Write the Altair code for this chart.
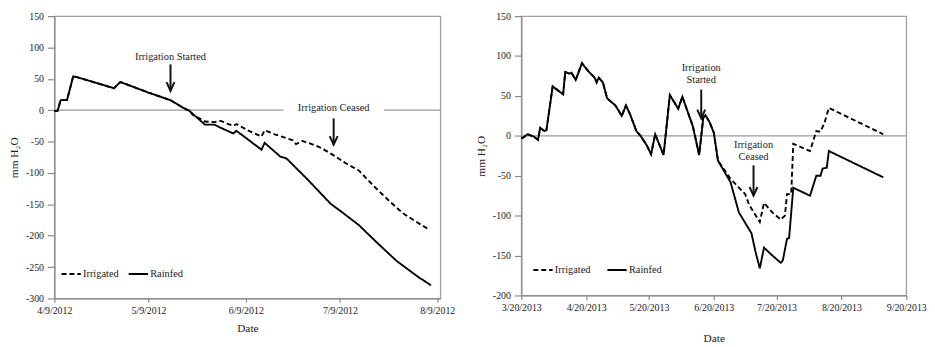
import altair as alt
import pandas as pd

# ---------------- Panel A (2012) ----------------
a_rain_dates = ["2012-04-09", "2012-04-10", "2012-04-11", "2012-04-13", "2012-04-15", "2012-04-16",
                "2012-04-28", "2012-04-30", "2012-05-09", "2012-05-16", "2012-05-20", "2012-05-22",
                "2012-05-27", "2012-05-30", "2012-06-01", "2012-06-05", "2012-06-06", "2012-06-09",
                "2012-06-14", "2012-06-15", "2012-06-20", "2012-06-22", "2012-06-29", "2012-07-06",
                "2012-07-09", "2012-07-15", "2012-07-21", "2012-07-27", "2012-08-03", "2012-08-07"]
a_rain_vals = [-1, -1, 16, 16, 54, 53,
               35, 45, 28, 16, 4, -1,
               -23, -23, -28, -37, -33, -44,
               -63, -52, -74, -77, -112, -149,
               -160, -183, -212, -240, -266, -279]

a_irr_dates = ["2012-04-09", "2012-04-10", "2012-04-11", "2012-04-13", "2012-04-15", "2012-04-16",
               "2012-04-28", "2012-04-30", "2012-05-09", "2012-05-16", "2012-05-20", "2012-05-22",
               "2012-05-23", "2012-05-27", "2012-05-30", "2012-06-01", "2012-06-05", "2012-06-06",
               "2012-06-10", "2012-06-14", "2012-06-15", "2012-06-18", "2012-06-24", "2012-06-25",
               "2012-06-27", "2012-06-30", "2012-07-03", "2012-07-07", "2012-07-11", "2012-07-15",
               "2012-07-20", "2012-07-25", "2012-07-29", "2012-08-03", "2012-08-06"]
a_irr_vals = [-1, -1, 16, 16, 54, 53,
              35, 45, 28, 16, 4, -1,
              -7, -18, -19, -17, -25, -22,
              -33, -42, -32, -38, -48, -54,
              -49, -54, -60, -72, -85, -96,
              -122, -146, -164, -180, -189]

a_ticks = ["2012-04-09", "2012-05-09", "2012-06-09", "2012-07-09", "2012-08-09"]
a_xdomain = ["2012-04-09", "2012-08-10"]
a_ydomain = [-300, 150]

# annotations panel A
a_text_labels = ["Irrigation Started", "Irrigation Ceased"]
a_text_dates = ["2012-05-16", "2012-07-07"]
a_text_vals = [84, 3]
a_arrow_dates = ["2012-05-16", "2012-07-07"]
a_arrow_from = [73, -13]
a_arrow_to = [31, -55]
a_gap_dates = ["2012-06-21", "2012-07-23"]
a_gap_vals = [-8, 14]

# ---------------- Panel B (2013) ----------------
b_rain_dates = ["2013-03-20", "2013-03-21", "2013-03-23", "2013-03-26", "2013-03-28", "2013-03-29",
                "2013-03-31", "2013-04-01", "2013-04-04", "2013-04-06", "2013-04-09", "2013-04-10",
                "2013-04-12", "2013-04-13", "2013-04-15", "2013-04-18", "2013-04-21", "2013-04-24",
                "2013-04-25", "2013-04-26", "2013-04-28", "2013-04-30", "2013-05-04", "2013-05-07",
                "2013-05-09", "2013-05-11", "2013-05-14", "2013-05-16", "2013-05-19", "2013-05-21",
                "2013-05-23", "2013-05-27", "2013-05-30", "2013-06-03", "2013-06-05", "2013-06-07",
                "2013-06-10", "2013-06-13", "2013-06-15", "2013-06-16", "2013-06-18", "2013-06-20",
                "2013-06-22", "2013-06-28", "2013-07-02", "2013-07-08", "2013-07-10", "2013-07-12",
                "2013-07-14", "2013-07-18", "2013-07-22", "2013-07-23", "2013-07-25", "2013-07-26",
                "2013-07-28", "2013-08-05", "2013-08-08", "2013-08-10", "2013-08-11", "2013-08-13",
                "2013-08-14", "2013-09-09"]
b_rain_vals = [-3, -2, 2, -1, -5, 10,
               6, 7, 62, 58, 52, 80,
               78, 79, 70, 91, 81, 73,
               67, 73, 67, 47, 38, 25,
               38, 27, 6, 0, -12, -23,
               2, -24, 51, 34, 49, 34,
               12, -24, 23, 26, 17, 4,
               -31, -58, -96, -122, -146, -166,
               -140, -150, -159, -156, -129, -128,
               -65, -75, -50, -50, -41, -40,
               -19, -52]

b_irr_dates = b_rain_dates[:43] + ["2013-06-28", "2013-07-05", "2013-07-07", "2013-07-12", "2013-07-14",
                                   "2013-07-18", "2013-07-22", "2013-07-24", "2013-07-25", "2013-07-27",
                                   "2013-07-28", "2013-08-05", "2013-08-08", "2013-08-10", "2013-08-12",
                                   "2013-08-14", "2013-09-09"]
b_irr_vals = b_rain_vals[:43] + [-54, -73, -87, -108, -84,
                                 -96, -105, -100, -73, -73,
                                 -10, -19, 6, 5, 17,
                                 35, 2]

b_ticks = ["2013-03-20", "2013-04-20", "2013-05-20", "2013-06-20", "2013-07-20", "2013-08-20", "2013-09-20"]
b_xdomain = ["2013-03-20", "2013-09-20"]
b_ydomain = [-200, 150]

b_text_labels = ["Irrigation", "Started", "Irrigation", "Ceased"]
b_text_dates = ["2013-06-14", "2013-06-14", "2013-07-09", "2013-07-09"]
b_text_vals = [85, 70, -11, -27]
b_arrow_dates = ["2013-06-14", "2013-07-09"]
b_arrow_from = [58, -37]
b_arrow_to = [22, -75]

FONT = "Liberation Serif"
ARROW = "M-1,-2.2L0,0L1,-2.2"


def dt(s):
    y, m, d = (int(p) for p in s.split("-"))
    return alt.DateTime(year=y, month=m, date=d)


def series_df(irr_d, irr_v, rain_d, rain_v):
    a = pd.DataFrame({"date": pd.to_datetime(irr_d), "value": irr_v, "series": "Irrigated"})
    b = pd.DataFrame({"date": pd.to_datetime(rain_d), "value": rain_v, "series": "Rainfed"})
    return pd.concat([a, b], ignore_index=True)


def panel(df, ticks, xdomain, ydomain, width, height, texts, arrows, gap,
          legend_x, legend_y, col_pad, x_title_pad):
    xscale = alt.Scale(domain=[dt(xdomain[0]), dt(xdomain[1])])
    yscale = alt.Scale(domain=ydomain, nice=False, zero=False)
    xaxis = alt.Axis(values=[dt(t) for t in ticks], format="%-m/%-d/%Y", title="Date",
                     titlePadding=x_title_pad, labelPadding=3, tickSize=4, labelFlush=False,
                     labelOverlap=False)
    yaxis = alt.Axis(values=list(range(ydomain[0], ydomain[1] + 1, 50)), title="mm H₂O",
                     labelExpr="replace(datum.label, '\u2212', '-')",
                     tickSize=7, labelPadding=4, titlePadding=6)

    zero = alt.Chart(pd.DataFrame({"v": [0]})).mark_rule(color="#9a9a9a", strokeWidth=1.3).encode(
        y=alt.Y("v:Q", scale=yscale, axis=yaxis))

    layers = [zero]
    if gap is not None:
        gdf = pd.DataFrame({"x1": [pd.to_datetime(gap[0][0])], "x2": [pd.to_datetime(gap[0][1])],
                            "y1": [gap[1][0]], "y2": [gap[1][1]]})
        layers.append(alt.Chart(gdf).mark_rect(color="white").encode(
            x=alt.X("x1:T", scale=xscale, axis=xaxis), x2="x2:T",
            y=alt.Y("y1:Q", scale=yscale, axis=yaxis), y2="y2:Q"))

    lines = alt.Chart(df).mark_line(strokeWidth=1.9, color="black", strokeJoin="miter").encode(
        x=alt.X("date:T", scale=xscale, axis=xaxis),
        y=alt.Y("value:Q", scale=yscale, axis=yaxis),
        strokeDash=alt.StrokeDash(
            "series:N",
            scale=alt.Scale(domain=["Irrigated", "Rainfed"], range=[[5, 3], [1, 0]]),
            legend=alt.Legend(orient="none", legendX=legend_x, legendY=legend_y,
                              direction="horizontal", title=None, symbolType="stroke",
                              symbolSize=380, symbolStrokeWidth=2, symbolStrokeColor="black",
                              labelFont=FONT, labelFontSize=10.5, labelColor="#222",
                              labelOffset=1, columnPadding=col_pad, padding=0)),
        order=alt.Order("date:T"),
    )
    layers.append(lines)

    tdf = pd.DataFrame({"date": pd.to_datetime(texts[1]), "value": texts[2], "label": texts[0]})
    layers.append(alt.Chart(tdf).mark_text(font=FONT, fontSize=10.5, color="#222", baseline="middle").encode(
        x=alt.X("date:T", scale=xscale, axis=xaxis), y=alt.Y("value:Q", scale=yscale, axis=yaxis),
        text="label:N"))

    adf = pd.DataFrame({"date": pd.to_datetime(arrows[0]), "y1": arrows[1], "y2": arrows[2]})
    layers.append(alt.Chart(adf).mark_rule(color="#111", strokeWidth=2).encode(
        x=alt.X("date:T", scale=xscale, axis=xaxis), y=alt.Y("y1:Q", scale=yscale, axis=yaxis), y2="y2:Q"))
    layers.append(alt.Chart(adf).mark_point(shape=ARROW, filled=False, size=64, color="#111",
                                            strokeWidth=2, opacity=1).encode(
        x=alt.X("date:T", scale=xscale, axis=xaxis), y=alt.Y("y2:Q", scale=yscale, axis=yaxis)))

    return alt.layer(*layers).properties(width=width, height=height)


left = panel(series_df(a_irr_dates, a_irr_vals, a_rain_dates, a_rain_vals),
             a_ticks, a_xdomain, a_ydomain, 391, 286,
             (a_text_labels, a_text_dates, a_text_vals),
             (a_arrow_dates, a_arrow_from, a_arrow_to),
             ((a_gap_dates[0], a_gap_dates[1]), (a_gap_vals[0], a_gap_vals[1])),
             6, 250, 5, 8)

right = panel(series_df(b_irr_dates, b_irr_vals, b_rain_dates, b_rain_vals),
              b_ticks, b_xdomain, b_ydomain, 390, 283,
              (b_text_labels, b_text_dates, b_text_vals),
              (b_arrow_dates, b_arrow_from, b_arrow_to),
              None,
              11, 246, 12, 21)

chart = alt.hconcat(left, right, spacing=19).resolve_scale(
    x="independent", y="independent", strokeDash="independent"
).resolve_legend(strokeDash="independent").properties(
    padding={"left": 0, "right": 0, "top": 0, "bottom": 0}
).configure(font=FONT).configure_view(
    stroke="#a0a0a0", strokeWidth=1.3
).configure_axis(
    grid=False, domainColor="#8a8a8a", domainWidth=1.3, tickColor="#8a8a8a", tickWidth=1.2,
    labelFont=FONT, labelFontSize=10, labelColor="#222",
    titleFont=FONT, titleFontSize=11.5, titleFontWeight="normal", titleColor="#222"
)

chart.save("out.html", embed_options={"renderer": "svg", "actions": False})
